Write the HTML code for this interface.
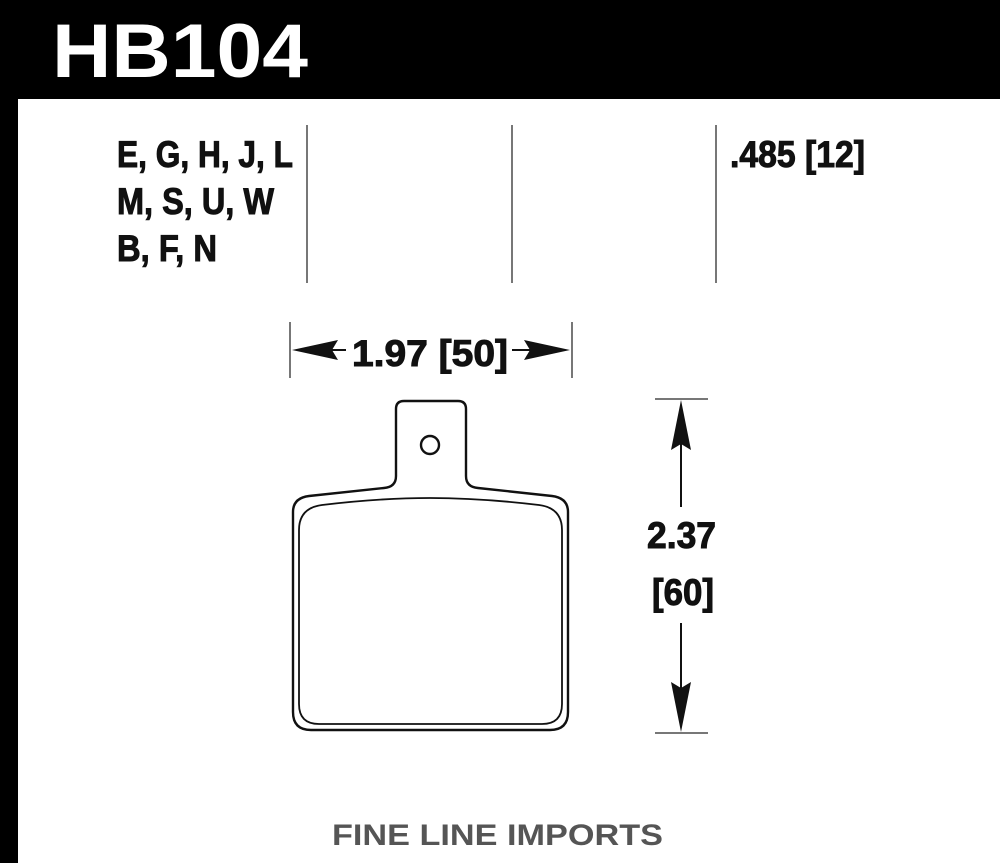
<!DOCTYPE html>
<html><head><style>
html,body{margin:0;padding:0;background:#fff;}
svg{display:block;}
</style></head><body>
<svg width="1000" height="863" viewBox="0 0 1000 863" xmlns="http://www.w3.org/2000/svg">
<rect x="0" y="0" width="1000" height="99" fill="#000"/>
<rect x="0" y="0" width="18" height="863" fill="#000"/>
<text x="52" y="77" font-family="Liberation Sans, sans-serif" font-weight="bold" font-size="76" fill="#fff" textLength="256" lengthAdjust="spacingAndGlyphs">HB104</text>

<g font-family="Liberation Sans, sans-serif" font-weight="bold" fill="#111" stroke="#111" stroke-width="1" font-size="37">
<text x="117" y="167" textLength="176" lengthAdjust="spacingAndGlyphs">E, G, H, J, L</text>
<text x="117" y="214" textLength="157" lengthAdjust="spacingAndGlyphs">M, S, U, W</text>
<text x="117" y="261" textLength="100" lengthAdjust="spacingAndGlyphs">B, F, N</text>
<text x="730" y="167" textLength="135" lengthAdjust="spacingAndGlyphs">.485 [12]</text>
<text x="352" y="366" textLength="156" lengthAdjust="spacingAndGlyphs">1.97 [50]</text>
<text x="647" y="548" textLength="69" lengthAdjust="spacingAndGlyphs">2.37</text>
<text x="652" y="605" textLength="62" lengthAdjust="spacingAndGlyphs">[60]</text>
</g>

<g stroke="#777" stroke-width="2">
<line x1="307" y1="125" x2="307" y2="283"/>
<line x1="512" y1="125" x2="512" y2="283"/>
<line x1="716" y1="125" x2="716" y2="283"/>
<line x1="290" y1="322" x2="290" y2="378"/>
<line x1="572" y1="322" x2="572" y2="378"/>
<line x1="655" y1="399" x2="708" y2="399"/>
<line x1="655" y1="733" x2="708" y2="733"/>
</g>
<g stroke="#111" stroke-width="2">
<line x1="330" y1="350" x2="346" y2="350"/>
<line x1="512" y1="350" x2="530" y2="350"/>
<line x1="681" y1="440" x2="681" y2="507"/>
<line x1="681" y1="623" x2="681" y2="695"/>
</g>
<g fill="#111">
<polygon points="292,350 338,340 332,350 338,360"/>
<polygon points="570,350 524,340 530,350 524,360"/>
<polygon points="681,400 671,450 681,444 691,450"/>
<polygon points="681,732 671,682 681,688 691,682"/>
</g>

<g fill="none" stroke="#111" stroke-width="2.4">
<path d="M396,476 L396,409 Q396,401 404,401 L458,401 Q466,401 466,409 L466,476 Q466,487 478,488 L552,496 Q568,498 568,512 L568,712 Q568,730 550,730 L311,730 Q293,730 293,712 L293,512 Q293,498 309,496 L384,488 Q396,487 396,476 Z"/>
<path d="M299,530 Q299,508 322,505 Q380,498 430,498 Q480,498 539,505 Q562,508 562,530 L562,704 Q562,724 542,724 L319,724 Q299,724 299,704 Z" stroke-width="1.8"/>
<circle cx="430" cy="445" r="9"/>
</g>

<text x="332" y="845" font-family="Liberation Sans, sans-serif" font-weight="bold" font-size="30" fill="#555" textLength="331" lengthAdjust="spacingAndGlyphs">FINE LINE IMPORTS</text>
</svg>
</body></html>
